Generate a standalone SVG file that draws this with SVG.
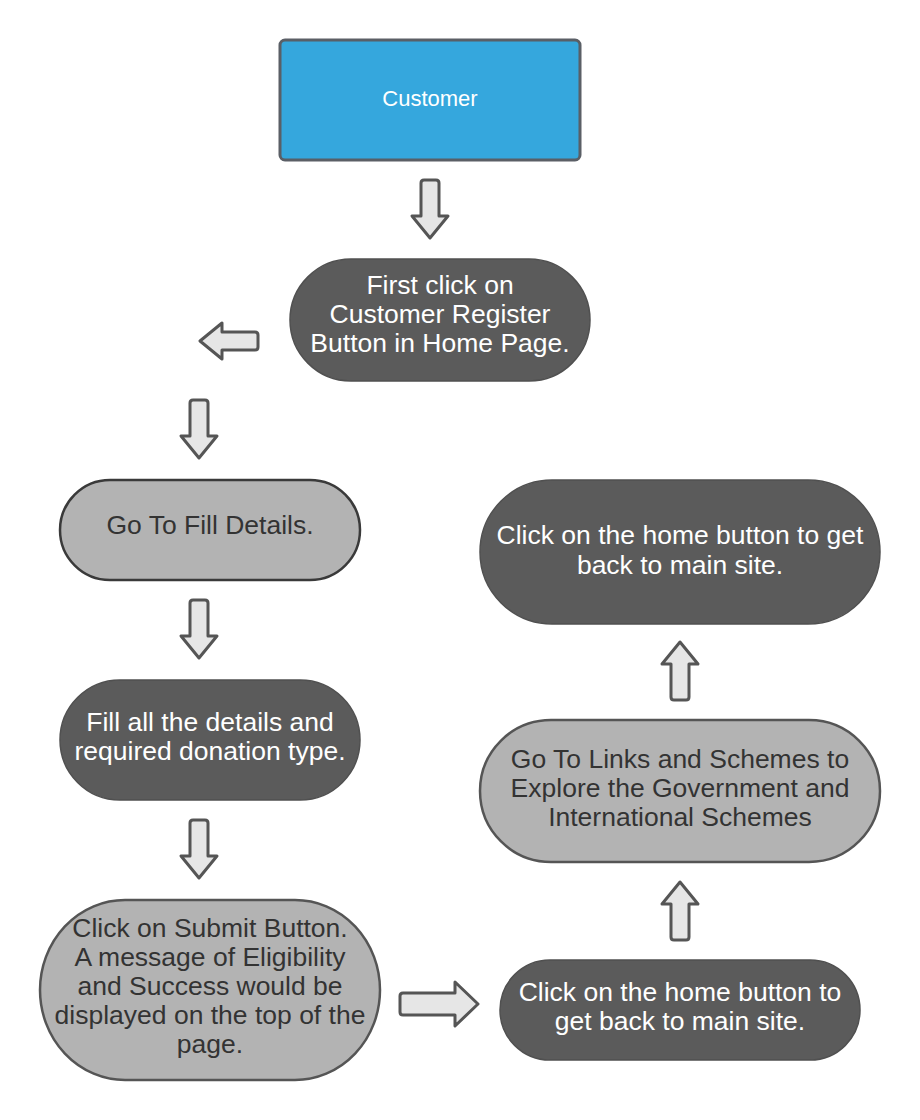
<svg xmlns="http://www.w3.org/2000/svg" xmlns:xlink="http://www.w3.org/1999/xlink" width="920" height="1120" viewBox="0 0 920 1120">
<style>
.dark{fill:#5b5b5b;stroke:#505050;stroke-width:1.5}
.light{fill:#b3b3b3;stroke:#3a3a3a;stroke-width:2.5}
.light2{fill:#b3b3b3;stroke:#555;stroke-width:2.5}
.arr{fill:#e6e6e6;stroke:#555;stroke-width:3;stroke-linejoin:round}
text{font-family:"Liberation Sans",Arial,sans-serif;font-size:26.5px;text-anchor:middle}
.w{fill:#ffffff}
.k{fill:#333333}
</style>
<defs>
<path id="a" d="M-9,3 Q-9,0 -6,0 H6 Q9,0 9,3 V36 H18 L0,58 L-18,36 H-9 Z"/>
</defs>
<rect width="920" height="1120" fill="#ffffff"/>
<g id="connectors">
<use xlink:href="#a" class="arr" transform="translate(430,180)"/>
<use xlink:href="#a" class="arr" transform="translate(258,341) rotate(90)"/>
<use xlink:href="#a" class="arr" transform="translate(199,400)"/>
<use xlink:href="#a" class="arr" transform="translate(199,600)"/>
<use xlink:href="#a" class="arr" transform="translate(199,820)"/>
<path class="arr" d="M403,993 H455 V982 L478,1004 L455,1026 V1015 H403 Q400,1015 400,1012 V996 Q400,993 403,993 Z"/>
<use xlink:href="#a" class="arr" transform="translate(680,940) rotate(180)"/>
<use xlink:href="#a" class="arr" transform="translate(680,700) rotate(180)"/>
</g>
<g id="customer">
<rect x="280" y="40" width="300" height="120" rx="5" fill="#35a7dd" stroke="#5a5f66" stroke-width="3"/>
<text x="430" y="106" class="w" style="font-size:22px">Customer</text>
</g>
<g id="first-click">
<rect x="290" y="259" width="300" height="122" rx="61" class="dark"/>
<text x="440" y="294" class="w">First click on</text>
<text x="440" y="323" class="w">Customer Register</text>
<text x="440" y="352" class="w">Button in Home Page.</text>
</g>
<g id="go-fill">
<rect x="60" y="480" width="300" height="100" rx="50" class="light"/>
<text x="210" y="534" class="k">Go To Fill Details.</text>
</g>
<g id="fill-all">
<rect x="60" y="680" width="300" height="120" rx="60" class="dark"/>
<text x="210" y="731" class="w">Fill all the details and</text>
<text x="210" y="760" class="w">required donation type.</text>
</g>
<g id="submit">
<rect x="40" y="900" width="340" height="180" rx="85" ry="90" class="light2"/>
<text x="210" y="937" class="k">Click on Submit Button.</text>
<text x="210" y="966" class="k">A message of Eligibility</text>
<text x="210" y="995" class="k">and Success would be</text>
<text x="210" y="1024" class="k">displayed on the top of the</text>
<text x="210" y="1053" class="k">page.</text>
</g>
<g id="home-bottom">
<rect x="500" y="960" width="360" height="100" rx="50" class="dark"/>
<text x="680" y="1001" class="w">Click on the home button to</text>
<text x="680" y="1030" class="w">get back to main site.</text>
</g>
<g id="links">
<rect x="480" y="720" width="400" height="142" rx="71" class="light2"/>
<text x="680" y="768" class="k">Go To Links and Schemes to</text>
<text x="680" y="797" class="k">Explore the Government and</text>
<text x="680" y="826" class="k">International Schemes</text>
</g>
<g id="home-top">
<rect x="480" y="480" width="400" height="144" rx="72" class="dark"/>
<text x="680" y="544" class="w">Click on the home button to get</text>
<text x="680" y="574" class="w">back to main site.</text>
</g>
</svg>
